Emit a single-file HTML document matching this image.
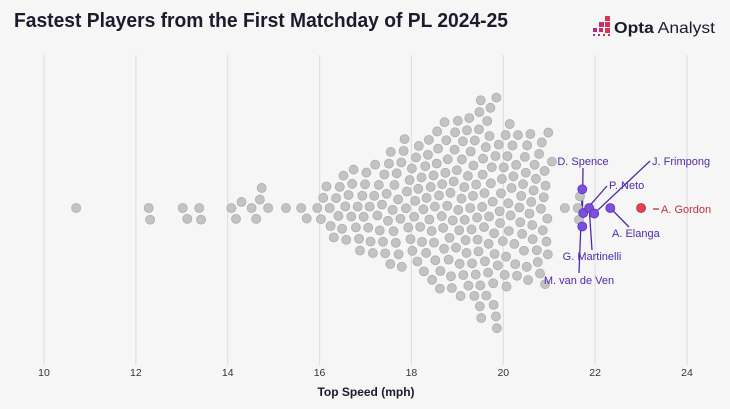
<!DOCTYPE html>
<html><head><meta charset="utf-8"><style>
html,body{margin:0;padding:0;background:#f6f6f6;}
svg{display:block;font-family:"Liberation Sans",sans-serif;}
</style></head><body>
<svg id="chart" width="730" height="409" viewBox="0 0 730 409">
<rect width="730" height="409" fill="#f6f6f6"/>
<text x="14" y="27" font-size="20" font-weight="bold" fill="#1c1a2b" textLength="494" lengthAdjust="spacingAndGlyphs">Fastest Players from the First Matchday of PL 2024-25</text>
<g>
<rect x="605" y="16" width="5" height="5" fill="#d8315b"/>
<rect x="599" y="22" width="5" height="5" fill="#c42f6e"/>
<rect x="605" y="22" width="5" height="5" fill="#d8315b"/>
<rect x="593" y="28" width="4" height="4" fill="#b02a86"/>
<rect x="599" y="28" width="4" height="4" fill="#c42f6e"/>
<rect x="605" y="28" width="5" height="5" fill="#e0344a"/>
<rect x="593" y="34" width="2" height="2" fill="#a02a90"/>
<rect x="598" y="34" width="2" height="2" fill="#b02a86"/>
<rect x="603" y="34" width="2" height="2" fill="#c42f6e"/>
<rect x="608" y="34" width="2" height="2" fill="#d8315b"/>
<text x="614" y="33" font-size="16" fill="#1c1a2b" textLength="101" lengthAdjust="spacingAndGlyphs"><tspan font-weight="bold">Opta</tspan> Analyst</text>
</g>
<g id="grid"></g>
<g id="ticks"></g>
<text x="366" y="396" font-size="12" font-weight="bold" fill="#1c1a2b" text-anchor="middle">Top Speed (mph)</text>
<g id="lines"></g>
<g id="dots"></g>
<g id="labels"></g>
</svg>
<script>
const tickValues=[10,12,14,16,18,20,22,24];
const greySpeeds=[10.7,12.28,12.31,13.02,13.12,13.38,13.42,14.08,14.18,14.3,14.52,14.62,14.7,14.74,14.88,15.27,15.6,15.72,15.95,
16.03,16.08,16.15,16.22,16.24,16.31,16.36,16.41,16.44,16.49,
16.52,16.56,16.58,16.63,16.69,16.71,16.74,16.79,16.83,16.86,16.88,16.93,16.96,16.99,
17.02,17.06,17.09,17.11,17.16,17.19,17.21,17.26,17.29,17.31,17.36,17.38,17.41,17.43,17.46,17.49,
17.51,17.54,17.55,17.59,17.61,17.63,17.66,17.68,17.71,17.72,17.76,17.78,17.79,17.83,17.85,17.88,17.9,17.93,17.96,17.98,
18.01,18.02,18.06,18.08,18.1,18.13,18.15,18.16,18.19,18.22,18.23,18.26,18.27,18.3,18.32,18.33,18.36,18.38,18.39,18.42,18.44,18.45,18.48,18.49,
18.51,18.52,18.55,18.56,18.58,18.6,18.62,18.63,18.66,18.67,18.69,18.71,18.72,18.74,18.76,18.78,18.79,18.81,18.83,18.85,18.86,18.88,18.9,18.92,18.94,18.95,18.97,18.99,
19.01,19.02,19.04,19.05,19.07,19.09,19.1,19.12,19.13,19.15,19.16,19.18,19.2,19.21,19.23,19.24,19.26,19.28,19.29,19.31,19.32,19.34,19.35,19.37,19.38,19.4,19.41,19.43,19.44,19.46,19.47,19.48,19.49,19.5,
19.51,19.52,19.54,19.55,19.56,19.58,19.59,19.6,19.62,19.63,19.65,19.67,19.68,19.69,19.7,19.72,19.73,19.75,19.77,19.78,19.79,19.8,19.81,19.83,19.84,19.85,19.86,19.88,19.9,19.92,19.93,19.95,19.97,19.99,
20.01,20.03,20.05,20.06,20.07,20.09,20.11,20.12,20.14,20.16,20.18,20.2,20.22,20.24,20.26,20.28,20.3,20.32,20.35,20.37,20.39,20.41,20.43,20.45,20.47,20.49,
20.51,20.52,20.54,20.57,20.59,20.61,20.63,20.64,20.66,20.68,20.71,20.73,20.75,20.78,20.8,20.82,20.84,20.86,20.88,20.9,20.91,20.92,20.94,20.96,20.97,20.98,
21.06,21.34,21.62,21.65,21.67];
const hlNames=["D. Spence","P. Neto","M. van de Ven","G. Martinelli","J. Frimpong","A. Elanga","A. Gordon"];
const hlSpeeds=[21.72,21.74,21.72,21.87,21.98,22.33,23.0];

const X0=44,X1=687,CY=208,R=4.5,D=11.8,DH=7.5;
const xs=v=>X0+(v-10)*(X1-X0)/14;
const NS="http://www.w3.org/2000/svg";
function mk(t,a){const e=document.createElementNS(NS,t);for(const k in a)e.setAttribute(k,a[k]);return e;}
const grid=document.getElementById('grid'),ticks=document.getElementById('ticks');
tickValues.forEach(t=>{
 const l=mk('line',{x1:xs(t),x2:xs(t),y1:55,y2:365,stroke:'#e0e0e0','stroke-width':1.2});
 
 
 grid.appendChild(l);
 const tx=mk('text',{x:xs(t),y:376,'font-size':10.5,fill:'#333','text-anchor':'middle'});
 tx.textContent=t;
 
 
 ticks.appendChild(tx);
});
const placed=[];
function place(p,dist){
 const x=xs(p.v);const cands=[0];
 const near=placed.filter(q=>Math.abs(q.x-x)<dist);
 near.forEach(q=>{const dy=Math.sqrt(dist*dist-(q.x-x)*(q.x-x));cands.push(q.y+dy,q.y-dy);});
 cands.sort((a,b)=>Math.abs(a)-Math.abs(b));
 let y=0;
 for(const c of cands){if(near.every(q=>Math.hypot(q.x-x,q.y-c)>=dist-0.01)){y=c;break;}}
 p.x=x;p.y=y;placed.push(p);
}
greySpeeds.slice().sort((a,b)=>a-b).forEach(v=>place({v,h:-1},D));
hlSpeeds.forEach((v,i)=>place({v,h:i},DH));
const dots=document.getElementById('dots');
placed.filter(p=>p.h<0).forEach(p=>{
 const c=mk('circle',{cx:p.x,cy:CY+p.y,r:R,fill:'#c3c3c3',stroke:'#adadad','stroke-width':0.8});
 
 
 dots.appendChild(c);
});
const labelPos=[[583,165,'middle'],[609,189,'start'],[579,284,'middle'],[592,260,'middle'],[652,165,'start'],[612,237,'start'],[653,213,'start']];
const lineEnds=[[583,168],[607,186],[579,273],[592,250],[650,161],[629,227],[659,209]];
const lines=document.getElementById('lines'),labels=document.getElementById('labels');
placed.filter(p=>p.h>=0).forEach(p=>{
 const i=p.h,red=hlNames[i]==="A. Gordon";
 const col=red?'#c0303c':'#4f2aa8';
 const e=lineEnds[i];
 const ln=mk('line',{x1:p.x,y1:CY+p.y,x2:e[0],y2:e[1],stroke:col,'stroke-width':1.3});
 if(red){ln.setAttribute('x1',653);ln.setAttribute('y1',209);}
 
 
 lines.appendChild(ln);
 const c=mk('circle',{cx:p.x,cy:CY+p.y,r:R,fill:red?'#e0434f':'#7c4fdc',stroke:red?'#b3303a':'#5a30b8','stroke-width':0.8});
 
 
 dots.appendChild(c);
 const lp=labelPos[i];
 const t=mk('text',{x:red?661:lp[0],y:lp[1],'font-size':11,fill:col,'text-anchor':lp[2]});
 t.textContent=hlNames[i];
 
 
 labels.appendChild(t);
});
</script>
</body></html>
